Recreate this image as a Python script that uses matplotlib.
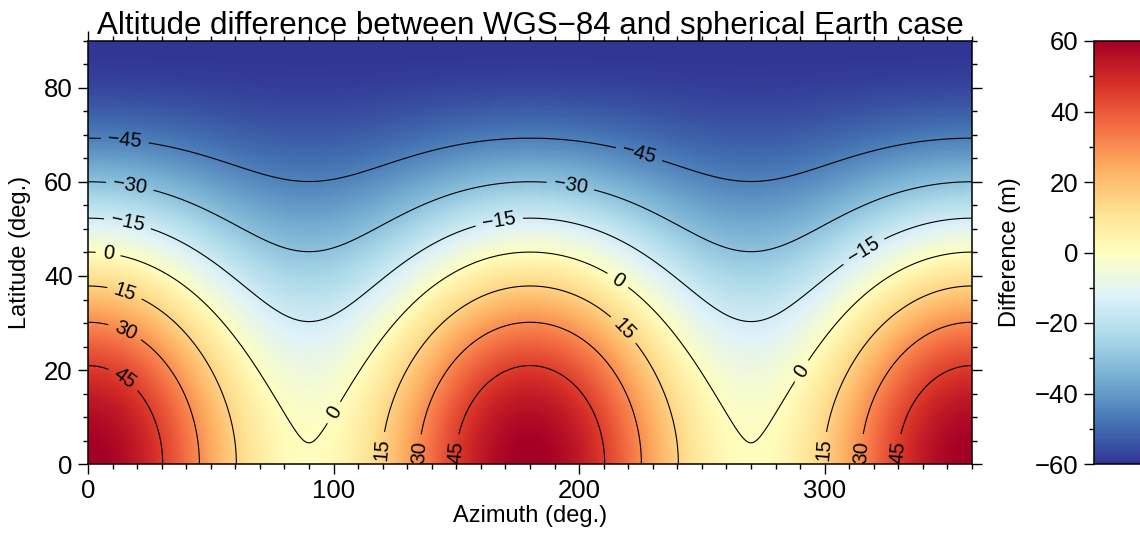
import numpy as np
import matplotlib
matplotlib.use("Agg")
import matplotlib.pyplot as plt
from matplotlib.ticker import MultipleLocator

plt.rcParams['font.family'] = ['Liberation Sans', 'DejaVu Sans']

# ---- data ----
azimuth = np.arange(0, 360.5, 0.5)          # deg
latitude = np.arange(0, 90.25, 0.25)        # deg
amplitude = 60.0                            # m, max |difference|
floor_offset = 0.0062                       # small offset keeping zero contour off lat 0 at az 90/270
contour_levels = [-45, -30, -15, 0, 15, 30, 45]
label_positions = [(15, 69), (225, 67), (17, 59), (197, 61), (16, 51), (167, 53), (315, 46),
                   (8, 44), (217, 40), (100, 11), (290, 20),
                   (14, 35), (219, 29), (120, 3), (300, 3),
                   (14, 27), (134, 2.5), (316, 2.5),
                   (13, 17), (150, 2.5), (331, 2.5)]
cbar_ticks = [-60, -40, -20, 0, 20, 40, 60]
x_ticks = [0, 100, 200, 300]
y_ticks = [0, 20, 40, 60, 80]

AZ, LAT = np.meshgrid(np.radians(azimuth), np.radians(latitude))
diff = amplitude * (np.cos(LAT) ** 2 * (np.cos(AZ) ** 2 + floor_offset) - np.sin(LAT) ** 2)

# ---- figure ----
W, H = 1140, 535
fig = plt.figure(figsize=(W / 100, H / 100), dpi=100)
ax = fig.add_axes([88 / W, (H - 464) / H, (972 - 88) / W, (464 - 41) / H])

mesh = ax.pcolormesh(azimuth, latitude, diff, cmap='RdYlBu_r', vmin=-60, vmax=60,
                     shading='gouraud', rasterized=True)
cs = ax.contour(azimuth, latitude, diff, levels=contour_levels, colors='black',
                linewidths=0.8, linestyles='solid')
labels = ax.clabel(cs, fmt=lambda v: f"{v:.0f}".replace('-', '\u2212'), fontsize=14.5,
                   inline=True, inline_spacing=7, manual=label_positions)

ax.set_xlim(0, 360)
ax.set_ylim(0, 90)
ax.set_xticks(x_ticks)
ax.set_yticks(y_ticks)
ax.xaxis.set_minor_locator(MultipleLocator(10))
ax.yaxis.set_minor_locator(MultipleLocator(5))
ax.tick_params(which='both', direction='out', top=True, right=True, labelsize=18.5, width=1.0,
               pad=4)
ax.tick_params(which='major', length=7)
ax.tick_params(which='minor', length=3.5)
for s in ax.spines.values():
    s.set_linewidth(1.1)

ax.set_xlabel('Azimuth (deg.)', fontsize=17, labelpad=1)
ax.set_ylabel('Latitude (deg.)', fontsize=17, labelpad=9)
ax.set_title('Altitude difference between WGS\u221284 and spherical Earth case', fontsize=22.5, pad=5)

# ---- colorbar ----
cax = fig.add_axes([1094 / W, (H - 464) / H, 70 / W, (464 - 41) / H])
cb = fig.colorbar(mesh, cax=cax, ticks=cbar_ticks)
cb.ax.yaxis.set_ticks_position('left')
cb.ax.yaxis.set_label_position('left')
cb.ax.yaxis.set_minor_locator(MultipleLocator(10))
cb.ax.tick_params(which='both', direction='out', labelsize=18.5, width=1.0, pad=4)
cb.ax.tick_params(which='major', length=7)
cb.ax.tick_params(which='minor', length=3.5)
cb.ax.set_yticklabels([f"{v}".replace('-', '\u2212') for v in cbar_ticks])
cb.set_label('Difference (m)', fontsize=17, labelpad=10)
cb.outline.set_linewidth(1.1)

fig.savefig('out.png', dpi=100)
